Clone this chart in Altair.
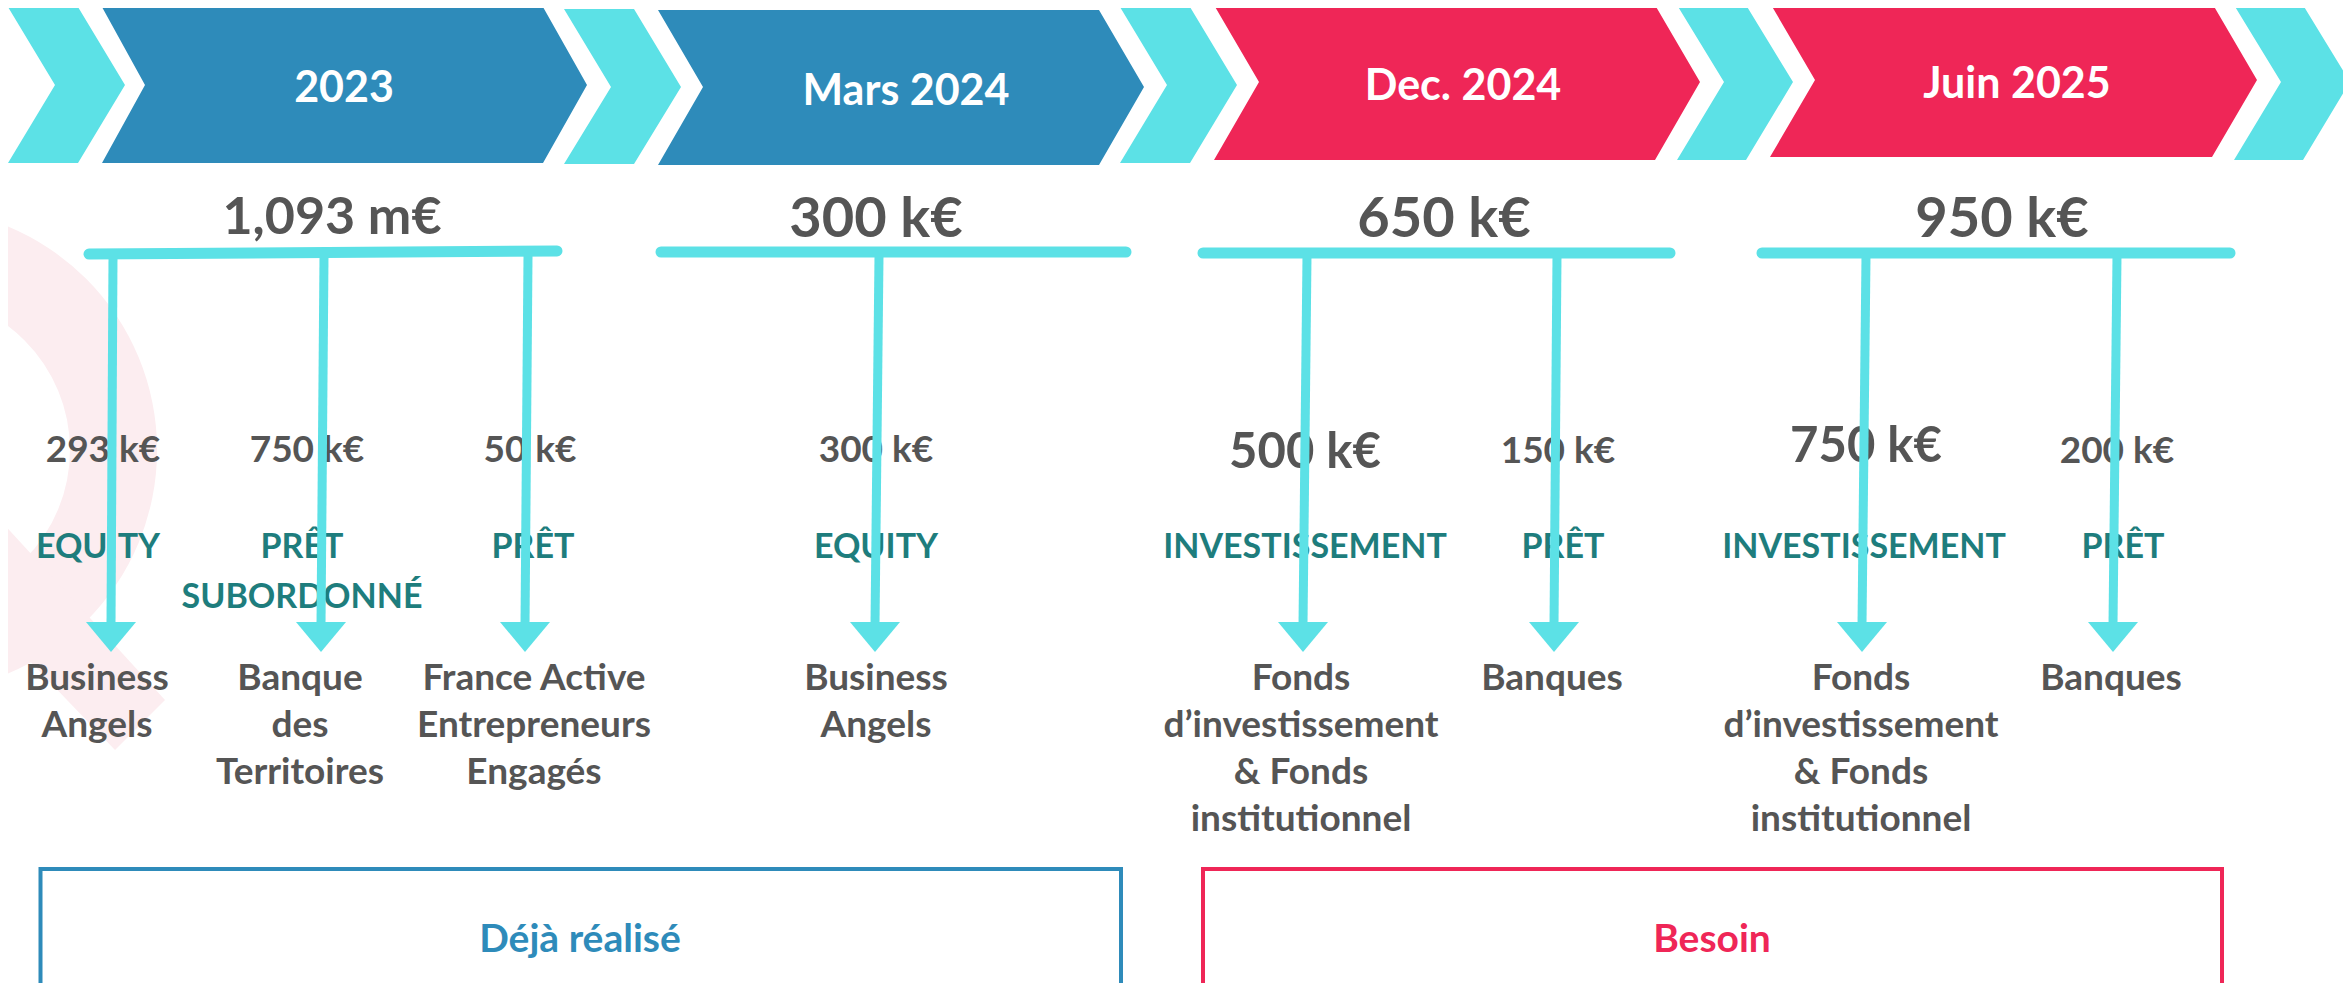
import altair as alt
import pandas as pd

# ---------------- content ----------------
periods = ["2023", "Mars 2024", "Dec. 2024", "Juin 2025"]
period_group = ["done", "done", "need", "need"]
totals = ["1,093 m€", "300 k€", "650 k€", "950 k€"]

item_period = [0, 0, 0, 1, 2, 2, 3, 3]
item_amounts = ["293 k€", "750 k€", "50 k€", "300 k€", "500 k€", "150 k€", "750 k€", "200 k€"]
item_types = [["EQUITY"], ["PRÊT", "SUBORDONNÉ"], ["PRÊT"], ["EQUITY"],
              ["INVESTISSEMENT"], ["PRÊT"], ["INVESTISSEMENT"], ["PRÊT"]]
item_sources = [["Business", "Angels"], ["Banque", "des", "Territoires"],
                ["France Active", "Entrepreneurs", "Engagés"], ["Business", "Angels"],
                ["Fonds", "d’investissement", "& Fonds", "institutionnel"], ["Banques"],
                ["Fonds", "d’investissement", "& Fonds", "institutionnel"], ["Banques"]]
groups = ["done", "need"]
group_labels = ["Déjà réalisé", "Besoin"]

# ---------------- layout & styles (page pixel coordinates) ----------------
W, H = 2335, 975
XDOM = [8, 8 + W]
YDOM = [8, 8 + H]

CYAN = "#5CE1E6"
BLUE = "#2E8BBA"
RED = "#EF2657"
TEAL = "#1E7D7D"
GREY = "#555555"
PINK = "#FCEDF0"
GROUP_COLOR = {"done": BLUE, "need": RED}
FONT = "Lato"

# chevrons: (left, notch, right, point, top, mid, bottom)
link_geom = [(8, 55, 78, 125, 7, 85, 163),
             (564, 611, 634, 681, 9, 87, 164),
             (1120, 1167, 1190, 1237, 7, 85, 163),
             (1677, 1724, 1746, 1793, 5, 82, 160),
             (2234, 2281, 2303, 2350, 5, 82, 160)]
period_geom = [(102, 145, 543, 587, 7, 85, 163),
               (658, 703, 1099, 1144, 10, 87, 165),
               (1214, 1259, 1655, 1700, 5, 82, 160),
               (1770, 1815, 2212, 2257, 3, 80, 157)]
period_text_x = [344, 906, 1463, 2017]
period_text_base = [102, 105, 100, 98]
PERIOD_FS = 43

total_x = [332, 876, 1444, 2002]
total_base = [234, 237, 237, 237]
total_fs = [52, 56, 56, 56]

bar_geom = [(84, 562, 254, 251), (656, 1131, 252, 252),
            (1198, 1675, 253, 253), (1757, 2235, 253, 253)]
BAR_W = 11

arrow_top_x = [113, 324, 528, 879, 1307, 1557, 1866, 2117]
arrow_tip_x = [111, 321, 525, 875, 1303, 1554, 1862, 2113]
SHAFT_TOP, HEAD_TOP, HEAD_TIP, HEAD_HALF = 256, 622, 652, 25
SHAFT_W = 9

amount_x = [103, 307, 530, 876, 1305, 1558, 1866, 2117]
amount_base = [462, 462, 462, 462, 468, 463, 462, 463]
amount_fs = [37, 37, 37, 37, 49, 37, 49, 37]

type_x = [98, 302, 533, 876, 1305, 1563, 1864, 2123]
TYPE_BASE, TYPE_LH, TYPE_FS = 558, 50, 34

source_x = [97, 300, 534, 876, 1301, 1552, 1861, 2111]
SOURCE_BASE, SOURCE_LH, SOURCE_FS = 690, 47, 37

box_geom = [(40.5, 1121, 869), (1203, 2222, 869)]
BOX_BOTTOM = 1030
box_text_x = [580, 1712]
BOX_TEXT_BASE, BOX_FS = 952, 39

RING_CENTER = (-85, 450)
RING_R, RING_R2 = 242, 155
tail_rows = [(520, 0, 0), (630, 0, 101), (700, 67, 165), (750, 115, 115)]


def X(f):
    return alt.X(f"{f}:Q", scale=alt.Scale(domain=XDOM, nice=False, zero=False), axis=None)


def Y(f):
    return alt.Y(f"{f}:Q", scale=alt.Scale(domain=YDOM, nice=False, zero=False, reverse=True), axis=None)


# ---------------- background decoration ----------------
ring = alt.Chart(pd.DataFrame({"x": [RING_CENTER[0]], "y": [RING_CENTER[1]]})).mark_arc(
    radius=RING_R, radius2=RING_R2, theta=0, theta2=3.1416, color=PINK
).encode(x=X("x"), y=Y("y"))

tail = alt.Chart(pd.DataFrame(tail_rows, columns=["y", "xl", "xr"])).mark_area(
    orient="horizontal", color=PINK, opacity=1
).encode(y=Y("y"), x=X("xl"), x2=alt.X2("xr:Q"))

# ---------------- chevrons ----------------
chev_rows = []
shapes = [(g, CYAN) for g in link_geom] + [(g, GROUP_COLOR[period_group[i]]) for i, g in enumerate(period_geom)]
for k, (g, col) in enumerate(shapes):
    left, notch, right, point, top, mid, bottom = g
    chev_rows += [
        {"id": k, "y": top, "xl": left, "xr": right, "c": col},
        {"id": k, "y": mid, "xl": notch, "xr": point, "c": col},
        {"id": k, "y": bottom, "xl": left, "xr": right, "c": col},
    ]
chevrons = alt.Chart(pd.DataFrame(chev_rows)).mark_area(orient="horizontal", opacity=1).encode(
    y=Y("y"), x=X("xl"), x2=alt.X2("xr:Q"),
    color=alt.Color("c:N", scale=None), detail="id:N",
)

# ---------------- texts ----------------
text_rows = []
for i, p in enumerate(periods):
    text_rows.append({"t": p, "x": period_text_x[i], "y": period_text_base[i], "s": PERIOD_FS, "c": "#FFFFFF"})
for i, t in enumerate(totals):
    text_rows.append({"t": t, "x": total_x[i], "y": total_base[i], "s": total_fs[i], "c": GREY})
for i in range(len(item_amounts)):
    text_rows.append({"t": item_amounts[i], "x": amount_x[i], "y": amount_base[i], "s": amount_fs[i], "c": GREY})
    for j, line in enumerate(item_types[i]):
        text_rows.append({"t": line, "x": type_x[i], "y": TYPE_BASE + j * TYPE_LH, "s": TYPE_FS, "c": TEAL})
    for j, line in enumerate(item_sources[i]):
        text_rows.append({"t": line, "x": source_x[i], "y": SOURCE_BASE + j * SOURCE_LH, "s": SOURCE_FS, "c": GREY})
for i, g in enumerate(groups):
    text_rows.append({"t": group_labels[i], "x": box_text_x[i], "y": BOX_TEXT_BASE, "s": BOX_FS, "c": GROUP_COLOR[g]})

texts = alt.Chart(pd.DataFrame(text_rows)).mark_text(
    font=FONT, fontWeight="bold", align="center", baseline="alphabetic"
).encode(
    x=X("x"), y=Y("y"), text="t:N",
    size=alt.Size("s:Q", scale=None), color=alt.Color("c:N", scale=None),
)

# ---------------- bars & arrows ----------------
bars = alt.Chart(pd.DataFrame(
    [{"x": a + 5, "x2": b - 5, "y": ya, "y2": yb} for a, b, ya, yb in bar_geom]
)).mark_rule(color=CYAN, strokeWidth=BAR_W, strokeCap="round").encode(
    x=X("x"), x2=alt.X2("x2:Q"), y=Y("y"), y2=alt.Y2("y2:Q")
)

shafts = alt.Chart(pd.DataFrame(
    [{"x": arrow_top_x[i], "x2": arrow_tip_x[i], "y": SHAFT_TOP, "y2": HEAD_TOP + 3}
     for i in range(len(item_period))]
)).mark_rule(color=CYAN, strokeWidth=SHAFT_W).encode(
    x=X("x"), x2=alt.X2("x2:Q"), y=Y("y"), y2=alt.Y2("y2:Q")
)

head_rows = []
for i in range(len(item_period)):
    tx = arrow_tip_x[i]
    head_rows += [{"id": i, "y": HEAD_TOP, "xl": tx - HEAD_HALF, "xr": tx + HEAD_HALF},
                  {"id": i, "y": HEAD_TIP, "xl": tx, "xr": tx}]
heads = alt.Chart(pd.DataFrame(head_rows)).mark_area(orient="horizontal", color=CYAN, opacity=1).encode(
    y=Y("y"), x=X("xl"), x2=alt.X2("xr:Q"), detail="id:N"
)

# ---------------- bottom boxes ----------------
boxes = alt.Chart(pd.DataFrame(
    [{"x": g[0], "x2": g[1], "y": g[2], "y2": BOX_BOTTOM, "c": GROUP_COLOR[groups[i]]} for i, g in enumerate(box_geom)]
)).mark_rect(fill="#FFFFFF", fillOpacity=0, strokeWidth=4, clip=True).encode(
    x=X("x"), x2=alt.X2("x2:Q"), y=Y("y"), y2=alt.Y2("y2:Q"),
    stroke=alt.Stroke("c:N", scale=None),
)

chart = alt.layer(ring, tail, chevrons, boxes, texts, bars, shafts, heads).properties(
    width=W, height=H, padding=0,
    autosize=alt.AutoSizeParams(type="none"),
    background="#FFFFFF",
).configure_view(stroke=None)

chart.save("out.html", embed_options={"renderer": "svg", "actions": False})
